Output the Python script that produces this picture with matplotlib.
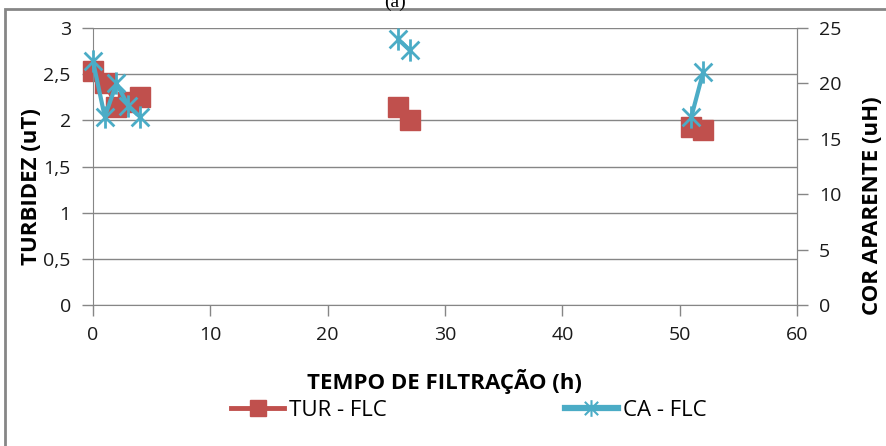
import matplotlib
matplotlib.use("Agg")
import matplotlib.pyplot as plt
import numpy as np
from matplotlib.path import Path
from matplotlib.patches import Rectangle

# filtration time (h) and the two measured series
horas = [0, 1, 2, 3, 4, 26, 27, 51, 52]
turbidez = [2.53, 2.40, 2.15, 2.20, 2.25, 2.14, 2.00, 1.93, 1.90]
cor_aparente = [22, 17, 20, 18, 17, 24, 23, 17, 21]

x_ticks = [0, 10, 20, 30, 40, 50, 60]
yl_ticks = [0, 0.5, 1, 1.5, 2, 2.5, 3]
yr_ticks = [0, 5, 10, 15, 20, 25]

RED = "#C0504D"
BLUE = "#4BACC6"
GRAY = "#868686"

plt.rcParams['font.family'] = ['Open Sans', 'DejaVu Sans']
size = 14
lab_size = 16

# excel-like asterisk marker: X plus vertical bar
star = Path([(-1, -1), (1, 1), (-1, 1), (1, -1), (0, -1.25), (0, 1.25)],
            [Path.MOVETO, Path.LINETO, Path.MOVETO, Path.LINETO, Path.MOVETO, Path.LINETO])


def segments(x, y):
    # excel leaves blank cells between the sampling runs -> break the line
    x = np.array(x, dtype=float)
    y = np.array(y, dtype=float)
    cuts = np.where(np.diff(x) > 10)[0] + 1
    return zip(np.split(x, cuts), np.split(y, cuts))


fig = plt.figure(figsize=(8.86, 4.46), dpi=100)
ax = fig.add_axes([0.105, 0.316, 0.7945, 0.621])
ax2 = ax.twinx()

for xs, ys in segments(horas, turbidez):
    ax.plot(xs, ys, color=RED, lw=2.5, marker='s', ms=15, mec=RED, mfc=RED,
            solid_capstyle='round', clip_on=False)
for xs, ys in segments(horas, cor_aparente):
    ax2.plot(xs, ys, color=BLUE, lw=3, marker=star, ms=16, mec=BLUE, mew=2,
             solid_capstyle='round', clip_on=False)

ax.set_xlim(0, 60)
ax.set_ylim(0, 3)
ax2.set_ylim(0, 25)
ax.set_xticks(x_ticks)
ax.set_yticks(yl_ticks)
ax.set_yticklabels([str(v).replace('.', ',').replace(',0', '') for v in yl_ticks])
ax2.set_yticks(yr_ticks)

ax.grid(axis='y', color=GRAY, lw=1)
ax.set_axisbelow(True)
for a in (ax, ax2):
    a.spines['top'].set_visible(False)
    for s in ('left', 'right', 'bottom'):
        a.spines[s].set_color(GRAY)
    a.tick_params(axis='both', labelsize=size, color=GRAY, length=8, width=1,
                  labelcolor='#1a1a1a')
ax.tick_params(axis='y', pad=8)
ax2.tick_params(axis='y', pad=8)
ax.tick_params(axis='x', pad=7)
ax2.spines['left'].set_visible(False)
ax2.spines['bottom'].set_visible(False)

fig.text(0.502, 0.145, 'TEMPO DE FILTRAÇÃO (h)', ha='center', va='center',
         fontsize=lab_size, fontweight='bold')
fig.text(0.036, 0.581, 'TURBIDEZ (uT)', rotation=90, ha='center', va='center',
         fontsize=lab_size, fontweight='bold')
fig.text(0.985, 0.538, 'COR APARENTE (uH)', rotation=90, ha='center', va='center',
         fontsize=lab_size, fontweight='bold')
fig.text(0.446, 0.995, '(a)', ha='center', va='center', fontsize=size,
         family='Liberation Serif')

h1 = plt.Line2D([], [], color=RED, lw=3.5, marker='s', ms=12, mec=RED)
h2 = plt.Line2D([], [], color=BLUE, lw=4.5, marker=star, ms=12, mec=BLUE, mew=1.5)
fig.legend([h1, h2], ['TUR - FLC', 'CA - FLC'], loc='center',
           bbox_to_anchor=(0.529, 0.08), ncol=2, frameon=False, fontsize=16,
           handlelength=2.4, handletextpad=0.22, columnspacing=8.0)

fig.add_artist(Rectangle((5 / 886, -0.2), 1.3, 0.2 + 1 - 9 / 446, fill=False,
                         edgecolor=GRAY, lw=2, transform=fig.transFigure,
                         clip_on=False))

fig.savefig("out.png", dpi=100)
